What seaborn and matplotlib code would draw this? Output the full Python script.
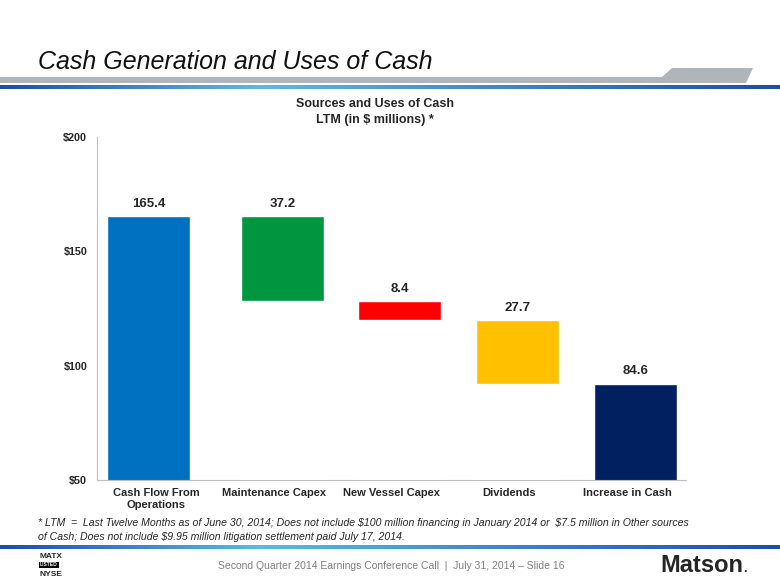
import numpy as np
import matplotlib
matplotlib.use("Agg")
import matplotlib.pyplot as plt
import seaborn as sns
import pandas as pd
from matplotlib.patches import Polygon

# data
categories = ["Cash Flow From\nOperations", "Maintenance Capex", "New Vessel Capex",
              "Dividends", "Increase in Cash"]
amounts = [165.4, 37.2, 8.4, 27.7, 84.6]
signs = [1, -1, -1, -1, 0]   # 0 = total bar
colors = ["#0070C0", "#00963F", "#FF0000", "#FFC000", "#002060"]
yticks = [50, 100, 150, 200]

# bars sit a little off-centre in the original slide
bar_shift = [-0.06, 0.075, 0.07, 0.07, 0.07]

# waterfall tops / bottoms from running total
run = 0.0
tops, bottoms = [], []
for a, s in zip(amounts, signs):
    if s == 1:
        tops.append(run + a); bottoms.append(run); run += a
    elif s == -1:
        tops.append(run); bottoms.append(run - a); run -= a
    else:
        tops.append(run); bottoms.append(0)
df = pd.DataFrame({"cat": categories, "top": tops, "bottom": bottoms})

sns.set_style("white")
plt.rcParams["font.family"] = ["Liberation Sans", "DejaVu Sans"]
plt.rcParams["text.parse_math"] = False

fig = plt.figure(figsize=(7.8, 5.85), dpi=100)

# header / footer decorations
W, H = 780, 585
deco = fig.add_axes([0, 0, 1, 1], zorder=0)
deco.set_xlim(0, W); deco.set_ylim(H, 0); deco.axis("off")
deco.add_patch(Polygon([(0, 77), (662, 77), (672, 68), (753, 68), (746, 83), (0, 83)],
                       closed=True, color="#B0B5BA", lw=0))
grad = np.concatenate([np.linspace(0, 1, 200), np.linspace(1, 0, 400)])
cmap = matplotlib.colors.LinearSegmentedColormap.from_list("b", ["#1A4FA8", "#5BB8EA"])
deco.imshow(grad[None, :], extent=[0, W, 89.5, 86], aspect="auto", cmap=cmap)
deco.imshow(grad[None, :], extent=[0, W, 549.5, 546], aspect="auto", cmap=cmap)
deco.set_xlim(0, W); deco.set_ylim(H, 0)

fig.text(38 / W, 1 - 69 / H, "Cash Generation and Uses of Cash", fontsize=18,
         style="italic", color="#111111", va="baseline")
fig.text(375 / W, 1 - 112 / H, "Sources and Uses of Cash\nLTM (in $ millions) *",
         ha="center", va="center", fontsize=9, fontweight="bold", linespacing=1.45)
fig.text(38 / W, 1 - 530 / H,
         "* LTM  =  Last Twelve Months as of June 30, 2014; Does not include $100 million financing in January 2014 or  $7.5 million in Other sources\n"
         "of Cash; Does not include $9.95 million litigation settlement paid July 17, 2014.",
         fontsize=7.6, style="italic", va="center", linespacing=1.5)
fig.text(391 / W, 1 - 566 / H,
         "Second Quarter 2014 Earnings Conference Call  |  July 31, 2014 \u2013 Slide 16",
         ha="center", va="center", fontsize=7.5, color="#7F7F7F")
fig.text(743 / W, 1 - 566 / H, "Matson", ha="right", va="center", fontsize=17,
         fontweight="bold")
fig.text(743 / W, 1 - 572 / H, ".", ha="left", va="baseline", fontsize=9, fontweight="bold")
fig.text(40 / W, 1 - 557 / H, "MATX", fontsize=6, fontweight="bold", va="center")
fig.text(40 / W, 1 - 565 / H, "LISTED", fontsize=3.6, fontweight="bold", va="center",
         color="white", bbox=dict(facecolor="black", pad=0.6, lw=0))
fig.text(40 / W, 1 - 574 / H, "NYSE", fontsize=6, fontweight="bold", va="center")

# chart
ax = fig.add_axes([97 / W, 1 - 480 / H, (686 - 97) / W, (480 - 137) / H], zorder=1)
ax.patch.set_alpha(0)
sns.barplot(data=df, x="cat", y="top", hue="cat", palette=colors, legend=False,
            width=0.705, saturation=1, ax=ax, zorder=2)
sns.barplot(data=df, x="cat", y="bottom", color="white", width=0.72,
            saturation=1, ax=ax, zorder=3)
n = len(categories)
for k, p in enumerate(ax.patches):
    p.set_x(p.get_x() + bar_shift[k % n])
for i, (t, a) in enumerate(zip(tops, amounts)):
    ax.text(i + bar_shift[i], t + 2.8, f"{a:.1f}", ha="center", va="bottom", fontsize=9.5,
            fontweight="bold", zorder=4)

ax.set_ylim(50, 200)
ax.set_xlim(-0.5, 4.5)
ax.set_yticks(yticks)
ax.set_yticklabels([f"${v}" for v in yticks], fontsize=7.8, fontweight="bold")
ax.set_xticks(range(n))
ax.set_xticklabels(categories, fontsize=8, fontweight="bold", linespacing=1.15)
ax.set_xticks(np.arange(-0.5, 5, 1), minor=True)
ax.tick_params(axis="x", which="major", length=0, pad=6)
ax.tick_params(axis="x", which="minor", length=4, color="#BFBFBF", direction="out")
ax.tick_params(axis="y", length=4, color="#BFBFBF", direction="out", pad=3)
ax.set_xlabel(""); ax.set_ylabel("")
for s in ["top", "right"]:
    ax.spines[s].set_visible(False)
for s in ["left", "bottom"]:
    ax.spines[s].set_color("#BFBFBF")
    ax.spines[s].set_linewidth(0.8)

fig.savefig("out.png", dpi=100)
